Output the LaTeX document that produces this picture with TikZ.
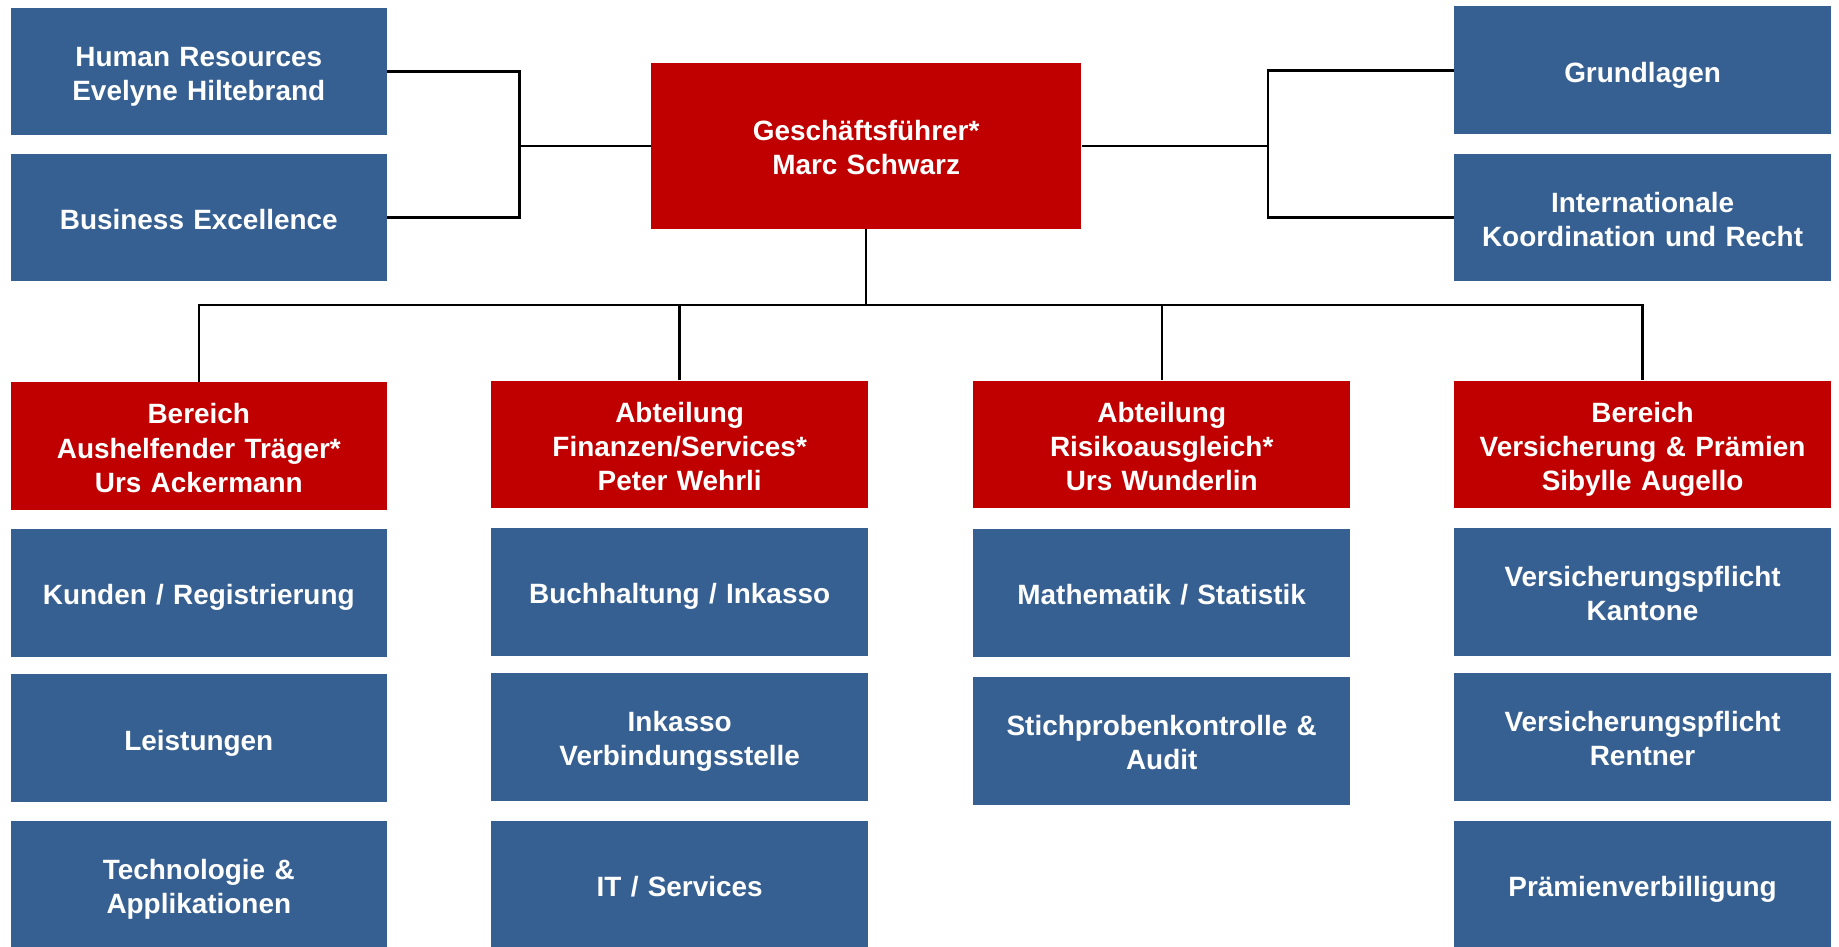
\documentclass[tikz,border=0pt]{standalone}
\usepackage{fontspec}
\setmainfont{Liberation Sans}
\definecolor{orgblue}{RGB}{55,96,146}
\definecolor{orgred}{RGB}{192,0,0}

\tikzset{
    unit/.style={rectangle, inner sep=0pt, minimum width=321pt, minimum height=109pt,
        text width=310pt, align=center, text=white,
        font=\fontsize{23.8}{29}\selectfont\bfseries,
        execute at begin node={\rule{0pt}{26pt}},
        execute at end node={\rule[-6pt]{0pt}{6pt}}},
    blbox/.style={unit, fill=orgblue},
    rdbox/.style={unit, fill=orgred},
    link/.style={draw=black, line width=2pt}
}

\begin{document}
\begin{tikzpicture}[x=1pt, y=-1pt]
    \useasboundingbox (0,0) rectangle (1568,807);

    % Top row
    \node[blbox] (hr) at (169.5, 61) {Human Resources\\Evelyne Hiltebrand};
    \node[blbox] (be) at (169.5, 185.5) {Business Excellence};
    \node[rdbox, minimum width=367pt, minimum height=141pt, text width=356pt] (ceo) at (738.5, 124.5) {Geschäftsführer*\\Marc Schwarz};
    \node[blbox] (gl) at (1400.5, 60) {Grundlagen};
    \node[blbox] (ik) at (1400.5, 185.5) {Internationale\\Koordination und Recht};

    % Column 1
    \node[rdbox] (ra) at (169.5, 380.5) {Bereich\\Aushelfender Träger*\\Urs Ackermann};
    \node[blbox] (a1) at (169.5, 505.5) {Kunden / Registrierung};
    \node[blbox] (a2) at (169.5, 629.5) {Leistungen};
    \node[blbox] (a3) at (169.5, 754.5) {Technologie \&\\Applikationen};

    % Column 2
    \node[rdbox] (rb) at (579.5, 379) {Abteilung\\Finanzen/Services*\\Peter Wehrli};
    \node[blbox] (b1) at (579.5, 504.5) {Buchhaltung / Inkasso};
    \node[blbox] (b2) at (579.5, 628.5) {Inkasso\\Verbindungsstelle};
    \node[blbox] (b3) at (579.5, 754.5) {IT / Services};

    % Column 3
    \node[rdbox] (rc) at (990.5, 379) {Abteilung\\Risikoausgleich*\\Urs Wunderlin};
    \node[blbox] (c1) at (990.5, 505.5) {Mathematik / Statistik};
    \node[blbox] (c2) at (990.5, 631.5) {Stichprobenkontrolle \&\\Audit};

    % Column 4
    \node[rdbox] (rd) at (1400.5, 379) {Bereich\\Versicherung \& Prämien\\Sibylle Augello};
    \node[blbox] (d1) at (1400.5, 504.5) {Versicherungspflicht\\Kantone};
    \node[blbox] (d2) at (1400.5, 628.5) {Versicherungspflicht\\Rentner};
    \node[blbox] (d3) at (1400.5, 754.5) {Prämienverbilligung};

    % Connectors
    \coordinate (lj) at (443, 124.5);
    \coordinate (rj) at (1081, 124.5);
    \coordinate (bus) at (738.5, 260);

    \draw[link] (hr.east) -| (lj) |- (be.east);
    \draw[link] (lj) -- (ceo.west);
    \draw[link] (gl.west) -| (rj) |- (ik.west);
    \draw[link] (rj) -- (ceo.east);

    \draw[link] (ceo.south) -- (bus);
    \draw[link] (bus) -| (ra.north);
    \draw[link] (bus) -| (rb.north);
    \draw[link] (bus) -| (rc.north);
    \draw[link] (bus) -| (rd.north);
\end{tikzpicture}
\end{document}
